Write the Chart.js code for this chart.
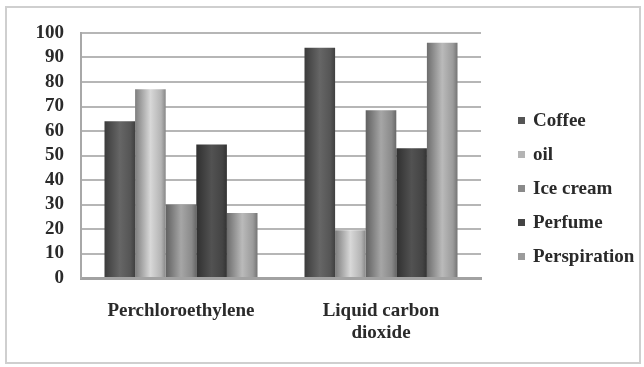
<!DOCTYPE html>
<html>
<head>
<meta charset="utf-8">
<script src="https://cdn.jsdelivr.net/npm/chart.js@4.4.1/dist/chart.umd.min.js"></script>
<style>
  html, body { margin: 0; padding: 0; background: #fff; }
  #wrap { position: relative; width: 644px; height: 367px; overflow: hidden; }
  #frame { position: absolute; left: 5px; top: 6px; width: 632px; height: 354px; border: 2px solid #cfcfcf; box-sizing: content-box; pointer-events: none; }
  canvas { position: absolute; left: 0; top: 0; }
  #legend { position: absolute; left: 518px; top: 103px; margin: 0; padding: 0; list-style: none;
            font-family: "Liberation Serif", "Times New Roman", serif; font-weight: bold; font-size: 19px; color: #2a2a2a; }
  #legend li { height: 34px; display: flex; align-items: center; white-space: nowrap; }
  #legend span.sw { display: inline-block; width: 7px; height: 7px; margin-right: 8px; }
</style>
</head>
<body>
<div id="wrap">
  <canvas id="c" width="644" height="367"></canvas>
  <div id="frame"></div>
  <ul id="legend"></ul>
</div>
<script>
// ---- data ----
const categories = ['Perchloroethylene', ['Liquid carbon', 'dioxide']];
const seriesNames = ['Coffee', 'oil', 'Ice cream', 'Perfume', 'Perspiration'];
const coffee = [64, 94];
const oil = [77, 19.5];
const iceCream = [30, 68.5];
const perfume = [54.5, 53];
const perspiration = [26.5, 96];
const yTicks = [0, 10, 20, 30, 40, 50, 60, 70, 80, 90, 100];

// ---- styles ----
const baseColors = [[85, 85, 85], [180, 180, 180], [138, 138, 138], [68, 68, 68], [155, 155, 155]];
const catPct = 0.765;
const FONT = { family: '"Liberation Serif", "Times New Roman", serif', size: 19, weight: 'bold' };

function rgb(c, f) {
  return 'rgb(' + c.map(v => Math.max(0, Math.min(255, Math.round(v * f)))).join(',') + ')';
}
function barFill(dsIndex) {
  return function (ctx) {
    const chart = ctx.chart;
    const base = baseColors[dsIndex];
    const xs = chart.scales && chart.scales.x;
    if (!xs || !chart.chartArea || ctx.dataIndex == null) return rgb(base, 1);
    const n = chart.data.datasets.length;
    const catW = xs.width / chart.data.labels.length;
    const bw = catW * catPct / n;
    const cx = xs.getPixelForValue(ctx.dataIndex) + (dsIndex - (n - 1) / 2) * bw;
    const g = chart.ctx.createLinearGradient(cx - bw / 2, 0, cx + bw / 2, 0);
    g.addColorStop(0, rgb(base, 0.7));
    g.addColorStop(0.15, rgb(base, 0.85));
    g.addColorStop(0.5, rgb(base, 1.2));
    g.addColorStop(0.85, rgb(base, 1.0));
    g.addColorStop(1, rgb(base, 0.75));
    return g;
  };
}

const seriesValues = [coffee, oil, iceCream, perfume, perspiration];
const datasets = seriesNames.map((name, i) => ({
  label: name,
  data: seriesValues[i],
  backgroundColor: barFill(i),
  borderWidth: 0,
  barPercentage: 1,
  categoryPercentage: catPct
}));

// legend (HTML, real text)
const legendEl = document.getElementById('legend');
seriesNames.forEach((name, i) => {
  const li = document.createElement('li');
  const sw = document.createElement('span');
  sw.className = 'sw';
  sw.style.background = rgb(baseColors[i], 1);
  li.appendChild(sw);
  li.appendChild(document.createTextNode(name));
  legendEl.appendChild(li);
});

new Chart(document.getElementById('c'), {
  type: 'bar',
  data: { labels: categories, datasets: datasets },
  options: {
    responsive: false,
    animation: false,
    devicePixelRatio: 1,
    layout: { padding: { left: 0, right: 163, top: 33, bottom: 0 } },
    plugins: { legend: { display: false }, tooltip: { enabled: false } },
    scales: {
      x: {
        grid: { display: false, drawTicks: false },
        border: { display: true, color: '#a2a2a2', width: 3 },
        ticks: { font: { ...FONT, lineHeight: 1.15 }, color: '#2a2a2a', padding: 22, maxRotation: 0, autoSkip: false },
        afterFit: s => { s.height = 89; }
      },
      y: {
        min: 0, max: 100,
        afterBuildTicks: s => { s.ticks = yTicks.map(v => ({ value: v })); },
        grid: { color: '#b6b6b6', lineWidth: 2, drawTicks: false },
        border: { display: true, color: '#a8a8a8', width: 2 },
        ticks: { font: FONT, color: '#2a2a2a', padding: 17, autoSkip: false, stepSize: 10 },
        afterFit: s => { s.width = 81; }
      }
    }
  }
});
</script>
</body>
</html>
